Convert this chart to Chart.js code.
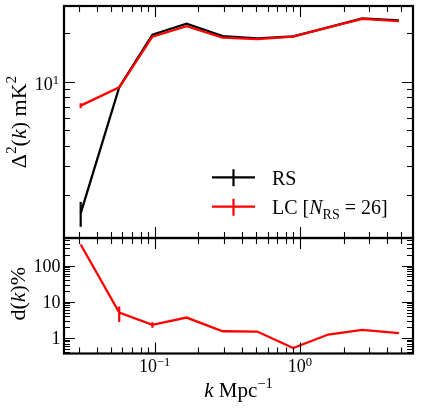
<!DOCTYPE html>
<html><head><meta charset="utf-8">
<script src="https://cdn.jsdelivr.net/npm/chart.js@4.4.0/dist/chart.umd.min.js"></script>
<style>
html,body{margin:0;padding:0;background:#fff;}
#wrap{position:relative;width:421px;height:409px;}
canvas{position:absolute;left:0;top:0;}
</style></head><body>
<div id="wrap"><canvas id="cTop" width="421" height="409"></canvas><canvas id="cBot" width="421" height="409"></canvas></div>
<script>
// ---- data ----
const kValues   = [0.0310, 0.0571, 0.0966, 0.166, 0.294, 0.508, 0.899, 1.566, 2.684, 4.80];
const rsPower   = [1.54, 9.23, 19.5, 22.8, 19.1, 18.5, 19.0, 21.6, 24.6, 23.9];
const rsErr     = [0.27, 0, 0, 0, 0, 0, 0, 0, 0, 0];
const lcPower   = [7.11, 9.23, 18.96, 21.98, 18.7, 18.3, 18.95, 21.6, 24.4, 23.6];
const lcErr     = [0.25, 0.05, 0, 0, 0, 0, 0, 0, 0, 0];
const diffPct   = [383, 5.04, 2.30, 3.66, 1.53, 1.50, 0.527, 1.24, 1.67, 1.35];
const diffErr   = [0, 2.3, 0.4, 0, 0, 0, 0, 0, 0, 0];
const xRange    = [0.0238, 6.0];
const yTopRange = [1.084, 29.3];
const yBotRange = [0.371, 580];
const xTickExps    = ['−1', '0'];          // labels 10^-1, 10^0
const yTopTickExps = ['1'];                // label 10^1
const yBotTickLabels = ['1', '10', '100'];
const seriesNames = ['RS', 'LC'];
const colors = {rs: '#000000', lc: '#ff0000'};

const FONT = '"Liberation Serif", "Times New Roman", serif';

function fontStr(sz, it){ return (it ? 'italic ' : '') + sz + 'px ' + FONT; }
// draw rich text segments: {t, s (scale), dy (em of base), it}
function drawRich(ctx, segs, x, y, base, align){
  let w = 0;
  const ms = segs.map(s => { ctx.font = fontStr(base*(s.s||1), s.it); const mw = ctx.measureText(s.t).width; w += mw; return mw; });
  let cx = align === 'center' ? x - w/2 : align === 'right' ? x - w : x;
  ctx.textAlign = 'left'; ctx.textBaseline = 'alphabetic';
  segs.forEach((s, i) => {
    ctx.font = fontStr(base*(s.s||1), s.it);
    ctx.fillText(s.t, cx, y + (s.dy||0)*base);
    cx += ms[i];
  });
  return w;
}
function minorTicks(min, max){
  const out = [];
  for (let e = Math.floor(Math.log10(min)); e <= Math.ceil(Math.log10(max)); e++)
    for (let m = 2; m <= 9; m++){ const v = m*Math.pow(10, e); if (v > min && v < max) out.push(v); }
  return out;
}
function majorTicks(min, max){
  const out = [];
  for (let e = Math.floor(Math.log10(min)); e <= Math.ceil(Math.log10(max)); e++){ const v = Math.pow(10, e); if (v >= min && v <= max) out.push(v); }
  return out;
}

function panelPlugin(opt){
  return {
    id: 'panel' + opt.name,
    afterDatasetsDraw(chart){
      const ctx = chart.ctx, ca = chart.chartArea, xs = chart.scales.x, ys = chart.scales.y;
      ctx.save();
      // error bars
      ctx.beginPath(); ctx.rect(ca.left, ca.top, ca.right-ca.left, ca.bottom-ca.top); ctx.clip();
      opt.errSets.forEach(es => {
        ctx.strokeStyle = es.color; ctx.lineWidth = 2.2;
        es.y.forEach((v, i) => {
          const e = es.err[i]; if (!e) return;
          const px = xs.getPixelForValue(kValues[i]);
          ctx.beginPath();
          ctx.moveTo(px, ys.getPixelForValue(v + e));
          ctx.lineTo(px, ys.getPixelForValue(Math.max(v - e, 1e-6)));
          ctx.stroke();
        });
      });
      ctx.restore();
      ctx.save();
      // ticks
      ctx.strokeStyle = '#000'; ctx.lineWidth = 1.1;
      const xt = [[majorTicks(xRange[0], xRange[1]), 11], [minorTicks(xRange[0], xRange[1]), 6]];
      xt.forEach(([vals, len]) => vals.forEach(v => {
        const px = Math.round(xs.getPixelForValue(v)) + 0.5;
        ctx.beginPath();
        ctx.moveTo(px, ca.top); ctx.lineTo(px, ca.top + len);
        ctx.moveTo(px, ca.bottom); ctx.lineTo(px, ca.bottom - len);
        ctx.stroke();
      }));
      const yr = opt.yRange;
      const yt = [[majorTicks(yr[0], yr[1]), 11], [minorTicks(yr[0], yr[1]), 6]];
      yt.forEach(([vals, len]) => vals.forEach(v => {
        const py = Math.round(ys.getPixelForValue(v)) + 0.5;
        ctx.beginPath();
        ctx.moveTo(ca.left, py); ctx.lineTo(ca.left + len, py);
        ctx.moveTo(ca.right, py); ctx.lineTo(ca.right - len, py);
        ctx.stroke();
      }));
      // frame
      ctx.lineWidth = 2.2;
      ctx.strokeRect(ca.left, ca.top, ca.right - ca.left, ca.bottom - ca.top);
      ctx.fillStyle = '#000';
      opt.labels(ctx, chart, xs, ys, ca);
      ctx.restore();
    }
  };
}

function baseOptions(yRange, pad){
  return {
    responsive: false, animation: false, devicePixelRatio: 1,
    layout: {padding: pad},
    plugins: {legend: {display: false}, tooltip: {enabled: false}},
    elements: {point: {radius: 0}, line: {tension: 0, borderWidth: 2.3, borderCapStyle: 'butt', borderJoinStyle: 'miter'}},
    scales: {
      x: {type: 'logarithmic', display: false, min: xRange[0], max: xRange[1], bounds: 'data'},
      y: {type: 'logarithmic', display: false, min: yRange[0], max: yRange[1], bounds: 'data'}
    }
  };
}
function pts(ys){ return kValues.map((x, i) => ({x, y: ys[i]})); }

// ---- top panel ----
new Chart(document.getElementById('cTop'), {
  type: 'line',
  data: {datasets: [
    {label: seriesNames[1], data: pts(lcPower), borderColor: colors.lc, order: 0, fill: false},
    {label: seriesNames[0], data: pts(rsPower), borderColor: colors.rs, order: 1, fill: false}
  ]},
  options: baseOptions(yTopRange, {left: 64, top: 6, right: 8, bottom: 171}),
  plugins: [panelPlugin({
    name: 'top', yRange: yTopRange,
    errSets: [{y: rsPower, err: rsErr, color: colors.rs}, {y: lcPower, err: lcErr, color: colors.lc}],
    labels(ctx, chart, xs, ys, ca){
      // y tick label 10^1
      majorTicks(yTopRange[0], yTopRange[1]).forEach((v, i) => {
        const py = ys.getPixelForValue(v);
        drawRich(ctx, [{t: '10'}, {t: yTopTickExps[i], s: 0.7, dy: -0.36}], ca.left - 5, py + 8.5, 18, 'right');
      });
      // y title
      ctx.save();
      ctx.translate(25.5, (ca.top + ca.bottom)/2);
      ctx.rotate(-Math.PI/2);
      drawRich(ctx, [{t: 'Δ'}, {t: '2', s: 0.7, dy: -0.42}, {t: '('}, {t: 'k', it: true}, {t: ')'}, {t: ' mK'}, {t: '2', s: 0.7, dy: -0.42}], 0, 0, 22, 'center');
      ctx.restore();
      // legend
      const lx = ca.right - 201, lw = 43;
      const rows = [{y: ca.top + 171.3, color: colors.rs, segs: [{t: 'RS'}]},
                    {y: ca.top + 200.7, color: colors.lc, segs: [{t: 'LC ['}, {t: 'N', it: true}, {t: 'RS', s: 0.7, dy: 0.22}, {t: ' = 26]'}]}];
      rows.forEach(r => {
        ctx.strokeStyle = r.color; ctx.lineWidth = 2.2;
        ctx.beginPath();
        ctx.moveTo(lx, r.y); ctx.lineTo(lx + lw, r.y);
        ctx.moveTo(lx + lw/2, r.y - 8); ctx.lineTo(lx + lw/2, r.y + 9);
        ctx.stroke();
        ctx.fillStyle = '#000';
        drawRich(ctx, r.segs, lx + 60, r.y + 7.5, 20, 'left');
      });
    }
  })]
});

// ---- bottom panel ----
new Chart(document.getElementById('cBot'), {
  type: 'line',
  data: {datasets: [
    {label: 'd(k)%', data: pts(diffPct), borderColor: colors.lc, fill: false}
  ]},
  options: baseOptions(yBotRange, {left: 64, top: 238, right: 8, bottom: 55.5}),
  plugins: [panelPlugin({
    name: 'bot', yRange: yBotRange,
    errSets: [{y: diffPct, err: diffErr, color: colors.lc}],
    labels(ctx, chart, xs, ys, ca){
      majorTicks(yBotRange[0], yBotRange[1]).forEach((v, i) => {
        const py = ys.getPixelForValue(v);
        drawRich(ctx, [{t: yBotTickLabels[i]}], ca.left - 3.5, py + 6, 18, 'right');
      });
      majorTicks(xRange[0], xRange[1]).forEach((v, i) => {
        const px = xs.getPixelForValue(v);
        drawRich(ctx, [{t: '10'}, {t: xTickExps[i], s: 0.7, dy: -0.36}], px, ca.bottom + 18.5, 18, 'center');
      });
      // x title
      drawRich(ctx, [{t: 'k', it: true}, {t: ' Mpc'}, {t: '−1', s: 0.7, dy: -0.4}], (ca.left + ca.right)/2, 396.5, 21, 'center');
      // y title
      ctx.save();
      ctx.translate(24.5, (ca.top + ca.bottom)/2 - 2);
      ctx.rotate(-Math.PI/2);
      drawRich(ctx, [{t: 'd('}, {t: 'k', it: true}, {t: ')%'}], 0, 0, 22, 'center');
      ctx.restore();
    }
  })]
});
</script>
</body></html>
